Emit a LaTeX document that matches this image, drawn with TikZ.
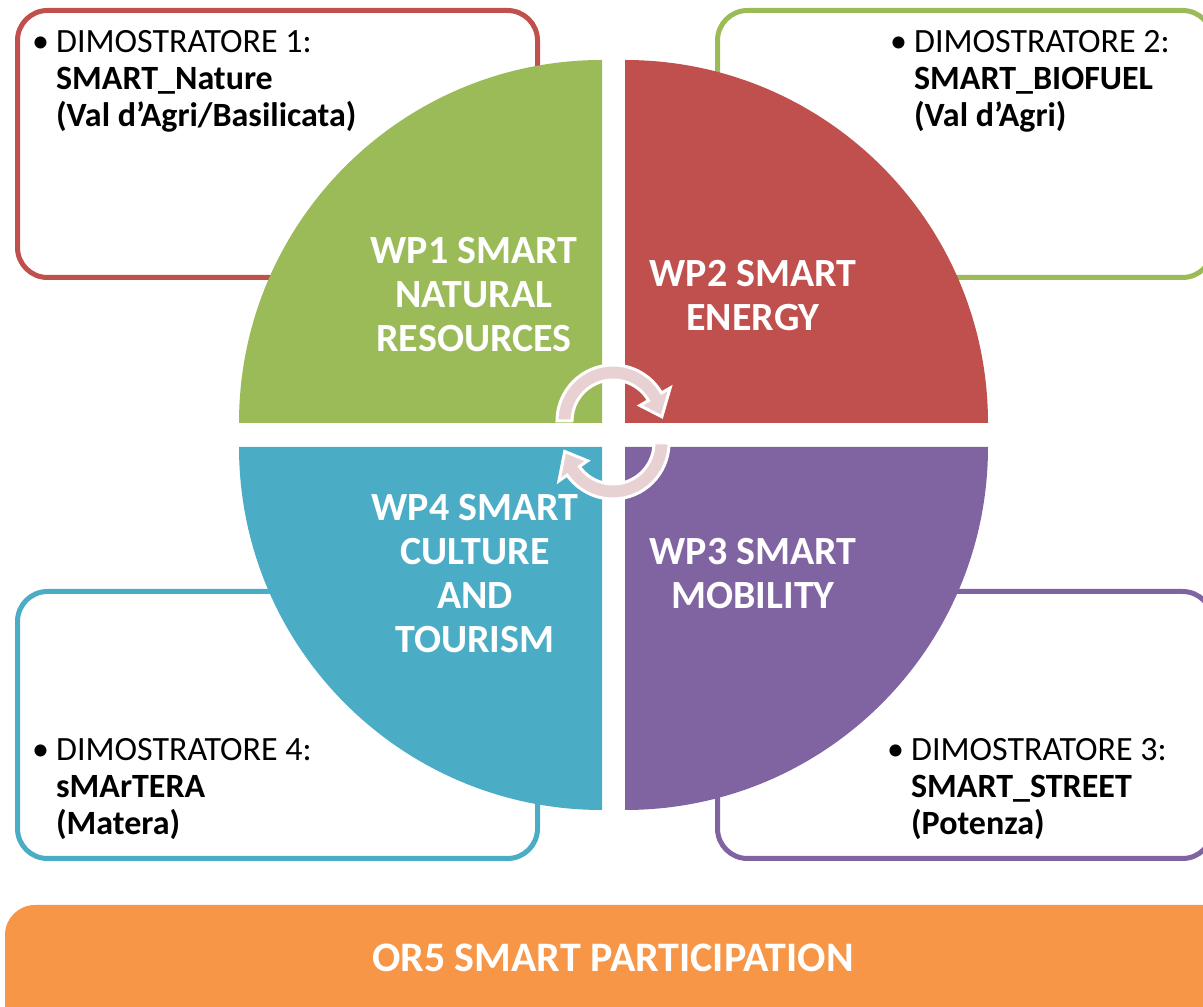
\documentclass[tikz,border=0pt]{standalone}
\usepackage{fontspec}
\setmainfont{Carlito}
\usetikzlibrary{positioning}
\definecolor{wpgreen}{HTML}{9BBB59}
\definecolor{wpred}{HTML}{C0504D}
\definecolor{wpblue}{HTML}{4BACC6}
\definecolor{wppurple}{HTML}{8064A2}
\definecolor{orfive}{HTML}{F79646}
\definecolor{cyclepink}{HTML}{E8D1D2}
\newcommand{\demotext}[3]{\begin{tabular}{@{}l@{\hspace{7pt}}l@{}}\textbullet & DIMOSTRATORE #1:\\ & \textbf{#2}\\ & \textbf{#3}\end{tabular}}

\begin{document}
\begin{tikzpicture}[x=1pt,y=1pt]
\tikzstyle{demobox} = [rectangle, rounded corners=30pt, line width=5pt, fill=white, minimum width=520pt, minimum height=267pt]
\tikzstyle{demo} = [inner sep=0pt, font=\fontsize{34}{37}\selectfont]
\tikzstyle{wplabel} = [text=white, align=center, inner sep=0pt, font=\fontsize{40}{44}\selectfont\bfseries]
\tikzstyle{cycarrow} = [fill=cyclepink, draw=white, line width=3pt, line join=miter]

\clip (0,0) rectangle (1203,1007);
\fill[white] (0,0) rectangle (1203,1007);

% demonstrator boxes
\node[demobox, draw=wpred] (box1) at (277.5,863) {};
\node[demobox, draw=wpgreen, minimum width=495pt] (box2) at (965,863) {};
\node[demobox, draw=wpblue] (box4) at (277.5,282) {};
\node[demobox, draw=wppurple, minimum width=495pt] (box3) at (965,282) {};

\node[demo, anchor=north west] (dim1) at ([xshift=17pt, yshift=-18pt]box1.north west) {\demotext{1}{SMART\_Nature}{(Val d'Agri/Basilicata)}};
\node[demo, anchor=north west] (dim2) at ([xshift=175pt, yshift=-18pt]box2.north west) {\demotext{2}{SMART\_BIOFUEL}{(Val d'Agri)}};
\node[demo, anchor=south west] (dim4) at ([xshift=17pt, yshift=15pt]box4.south west) {\demotext{4}{sMArTERA}{(Matera)}};
\node[demo, anchor=south west] (dim3) at ([xshift=172pt, yshift=15pt]box3.south west) {\demotext{3}{SMART\_STREET}{(Potenza)}};

% quadrants
\fill[wpgreen] (602,584) -- ++(-363,0) arc[start angle=180, end angle=90, radius=363pt] -- cycle;
\fill[wpred] (625,584) -- ++(0,363) arc[start angle=90, end angle=0, radius=363pt] -- cycle;
\fill[wpblue] (602,560) -- ++(0,-363) arc[start angle=270, end angle=180, radius=363pt] -- cycle;
\fill[wppurple] (625,560) -- ++(363,0) arc[start angle=0, end angle=-90, radius=363pt] -- cycle;

\node[wplabel] (wp1) at (474,712) {WP1 SMART\\NATURAL\\RESOURCES};
\node[wplabel] (wp2) at (753,711) {WP2 SMART\\ENERGY};
\node[wplabel] (wp3) at (753,433) {WP3 SMART\\MOBILITY};
\node[wplabel] (wp4) at (475,433) {WP4 SMART\\CULTURE\\AND\\TOURISM};

% cycle arrows
\coordinate (T) at (613,586);
\coordinate (B) at (613,564);
\draw[cycarrow] ([shift={(180:56pt)}]T) arc[start angle=180, end angle=30, radius=56pt]
  -- ([shift={(30:66pt)}]T) -- ([shift={(5:49pt)}]T) -- ([shift={(30:31pt)}]T)
  -- ([shift={(30:41pt)}]T) arc[start angle=30, end angle=180, radius=41pt] -- cycle;
\draw[cycarrow] ([shift={(0:56pt)}]B) arc[start angle=0, end angle=-145, radius=56pt]
  -- ([shift={(-145:66pt)}]B) -- ([shift={(-170:49pt)}]B) -- ([shift={(-145:31pt)}]B)
  -- ([shift={(-145:41pt)}]B) arc[start angle=-145, end angle=0, radius=41pt] -- cycle;

% participation bar
\node[rectangle, rounded corners=30pt, fill=orfive, minimum width=1240pt, minimum height=140pt] (or5bar) at (625,32) {};
\node[wplabel, font=\fontsize{42}{44}\selectfont\bfseries] (or5) at (613,49) {OR5 SMART PARTICIPATION};
\end{tikzpicture}
\end{document}
